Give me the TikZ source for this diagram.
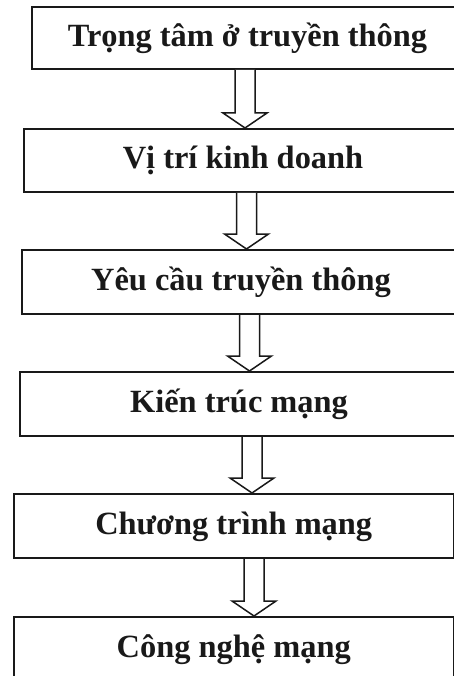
\documentclass[tikz,border=0pt]{standalone}
\usepackage{fontspec}
\setmainfont{Liberation Serif}
\usetikzlibrary{calc}
\tikzset{
  stagebox/.style={draw=black!90, line width=2pt, anchor=north west, inner sep=0pt,
    font=\fontsize{32.4}{36}\selectfont\bfseries, text=black!90,
    text height=22pt, text depth=5pt},
  barrow/.style={draw=black!90, line width=1.5pt, fill=white, line join=miter}
}
% centred text in a field of width #1, followed by #2 of empty space to the right
\newcommand{\boxtext}[3]{\makebox[#1][c]{#3}\hspace*{#2}}
\newcommand{\blockarrow}[3]{%
  \draw[barrow] let \p1=(#3 |- #1.south), \p2=(#3 |- #2.north) in
    (\x1-10pt,\y1) -- (\x1-10pt,\y2+15pt) -- (\x1-22pt,\y2+15pt) -- (\x2,\y2)
    -- (\x1+22pt,\y2+15pt) -- (\x1+10pt,\y2+15pt) -- (\x1+10pt,\y1);}
\begin{document}
\begin{tikzpicture}[x=1pt,y=-1pt]
  \useasboundingbox (0,0) rectangle (454,676);
  \fill[white] (0,0) rectangle (454,676);
  \clip (0,0) rectangle (454,676);
  \node[stagebox, minimum height=62pt] (b1) at (31,6) {\boxtext{431pt}{60pt}{Trọng tâm ở truyền thông}};
  \node[stagebox, minimum height=63pt] (b2) at (23,128) {\boxtext{438pt}{60pt}{Vị trí kinh doanh}};
  \node[stagebox, minimum height=64pt] (b3) at (21,249) {\boxtext{438pt}{60pt}{Yêu cầu truyền thông}};
  \node[stagebox, minimum height=64pt] (b4) at (19,371) {\boxtext{438pt}{60pt}{Kiến trúc mạng}};
  \node[stagebox, minimum width=439.5pt, minimum height=64pt] (b5) at (13,493) {Chương trình mạng};
  \node[stagebox, minimum width=439.5pt, minimum height=64pt] (b6) at (13,616) {Công nghệ mạng};
  \coordinate (x1) at (245,0);
  \coordinate (x2) at (246.5,0);
  \coordinate (x3) at (249.5,0);
  \coordinate (x4) at (252,0);
  \coordinate (x5) at (254,0);
  \blockarrow{b1}{b2}{x1}
  \blockarrow{b2}{b3}{x2}
  \blockarrow{b3}{b4}{x3}
  \blockarrow{b4}{b5}{x4}
  \blockarrow{b5}{b6}{x5}
\end{tikzpicture}
\end{document}
